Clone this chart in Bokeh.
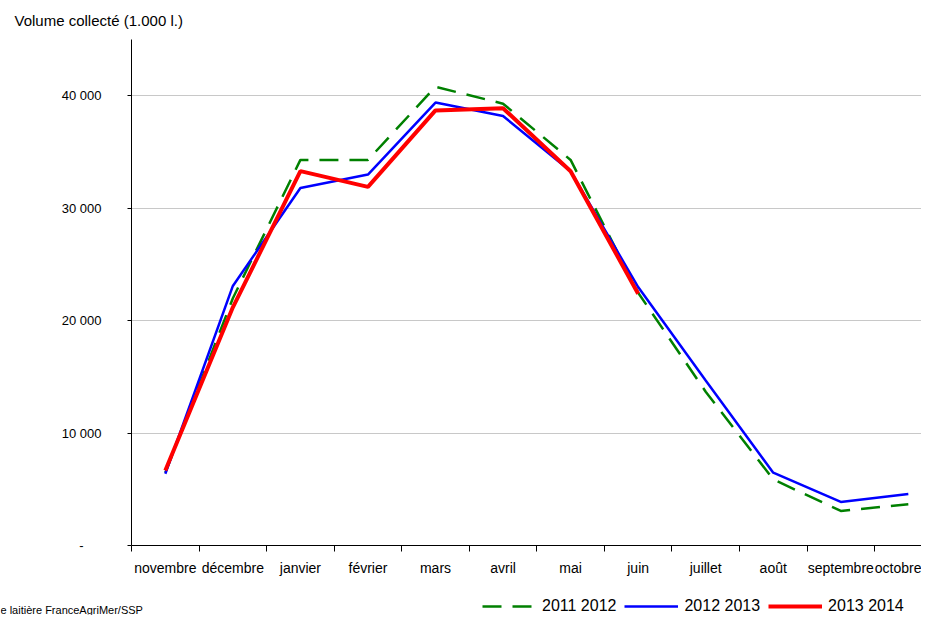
from bokeh.plotting import figure
from bokeh.models import Range1d, FixedTicker, Legend, LegendItem, Label, Grid
from bokeh.embed import file_html
from bokeh.resources import INLINE

months = ["novembre", "décembre", "janvier", "février", "mars", "avril",
          "mai", "juin", "juillet", "août", "septembre", "octobre"]
s_2011_2012 = [6500, 22000, 34300, 34300, 40800, 39300, 34300, 22500, 13700, 5900, 3100, 3700]
s_2012_2013 = [6400, 23100, 31800, 33000, 39400, 38200, 33300, 23000, 14700, 6500, 3900, 4600]
s_2013_2014 = [6700, 21200, 33300, 31900, 38700, 38900, 33300, 22400,
               float("nan"), float("nan"), float("nan"), float("nan")]
y_ticks = [0, 10000, 20000, 30000, 40000]
y_tick_labels = ["-\u00a0\u00a0\u00a0\u00a0\u00a0", "10 000", "20 000", "30 000", "40 000"]
grid_values = [10000, 20000, 30000, 40000]
y_max = 45000
series_names = ["2011 2012", "2012 2013", "2013 2014"]
title_text = "Volume collecté (1.000 l.)"
source_text = "e laitière FranceAgriMer/SSP"

FONT = "Liberation Sans"
n = len(months)
xs = [i + 0.5 for i in range(n)]
bounds = list(range(n + 1))

W, H = 921, 615
p = figure(width=W, height=H, output_backend="svg", toolbar_location=None,
           x_range=Range1d(-1.94, 11.695), y_range=Range1d(-6196, 48471),
           min_border_left=0, min_border_right=0, min_border_top=0, min_border_bottom=0)
p.outline_line_color = None
p.background_fill_color = "white"
p.border_fill_color = "white"
p.xgrid.visible = False

yg = p.ygrid[0]
yg.ticker = FixedTicker(ticks=grid_values)
yg.grid_line_color = "#C8C8C8"
yg.grid_line_width = 1
if "cross_bounds" in Grid.properties():
    yg.cross_bounds = (0, n)
else:
    yg.visible = False
    p.segment(x0=[0] * len(grid_values), x1=[n] * len(grid_values),
              y0=grid_values, y1=grid_values, line_color="#C8C8C8", line_width=1)

xa = p.xaxis[0]
xa.fixed_location = 0
xa.bounds = (0, n)
xa.ticker = FixedTicker(ticks=xs, minor_ticks=bounds)
xa.major_label_overrides = {x: m for x, m in zip(xs, months)}
xa.major_tick_line_color = None
xa.major_tick_out = 0
xa.major_tick_in = 0
xa.minor_tick_in = 0
xa.minor_tick_out = 6
xa.minor_tick_line_color = "black"
xa.axis_line_color = "black"
xa.major_label_standoff = 8
xa.major_label_text_font = FONT
xa.major_label_text_font_size = "14px"
xa.major_label_text_color = "black"

ya = p.yaxis[0]
ya.fixed_location = 0
ya.bounds = (0, y_max)
ya.ticker = FixedTicker(ticks=y_ticks)
ya.major_label_overrides = {t: l for t, l in zip(y_ticks, y_tick_labels)}
ya.major_tick_in = 0
ya.major_tick_out = 4
ya.major_tick_line_color = "black"
ya.minor_tick_line_color = None
ya.axis_line_color = "black"
ya.major_label_standoff = 26
ya.major_label_text_font = FONT
ya.major_label_text_font_size = "13px"
ya.major_label_text_color = "black"

r1 = p.line(xs, s_2011_2012, line_color="#008000", line_width=2.5, line_dash="19 11")
r2 = p.line(xs, s_2012_2013, line_color="#0000FF", line_width=2.5)
r3 = p.line(xs, s_2013_2014, line_color="#FF0000", line_width=4)

legend = Legend(items=[LegendItem(label=series_names[0], renderers=[r1]),
                       LegendItem(label=series_names[1], renderers=[r2]),
                       LegendItem(label=series_names[2], renderers=[r3])],
                orientation="horizontal", location=(482, 0),
                glyph_width=54, glyph_height=16, label_height=16,
                label_standoff=6, spacing=8, padding=0, margin=0,
                border_line_color=None, background_fill_alpha=0,
                label_text_font=FONT, label_text_font_size="16px",
                label_text_color="black")
p.add_layout(legend, "center")

p.add_layout(Label(x=14, y=H - 20, x_units="screen", y_units="screen", text=title_text,
                   text_font=FONT, text_font_size="15px", text_baseline="middle",
                   text_color="black"))
p.add_layout(Label(x=0, y=6, x_units="screen", y_units="screen", text=source_text,
                   text_font=FONT, text_font_size="11px", text_baseline="middle",
                   text_color="black"))

open("out.html", "w").write(file_html(p, INLINE))
